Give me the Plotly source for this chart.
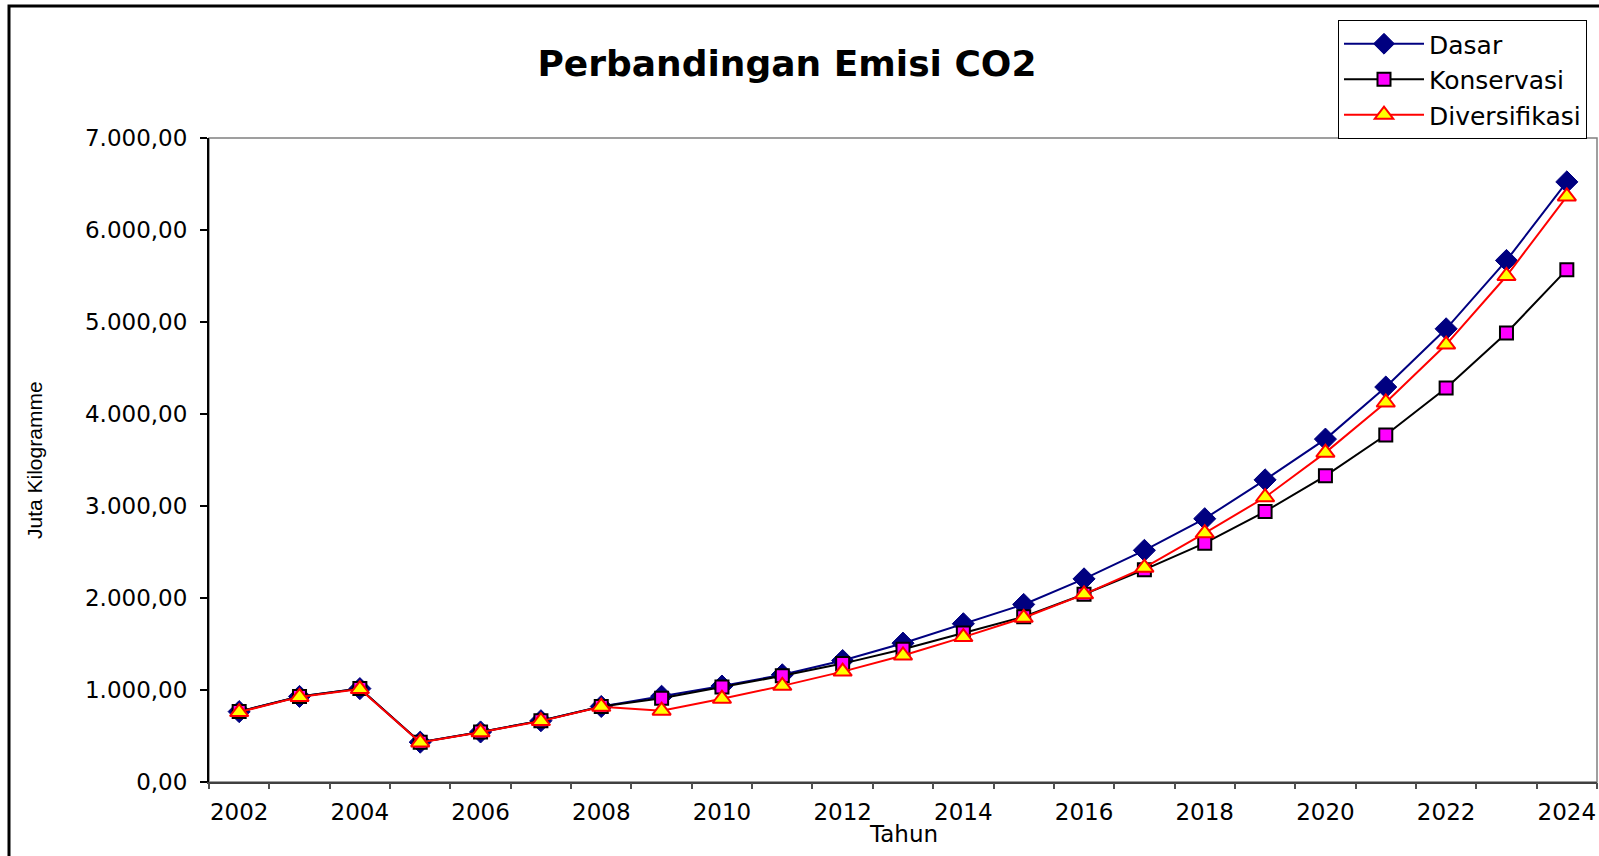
import plotly.graph_objects as go

years = list(range(2002, 2025))
dasar = [765, 930, 1015, 433, 544, 666, 821, 932, 1043, 1165, 1320, 1509, 1720, 1930,
         2208, 2518, 2862, 3284, 3727, 4293, 4926, 5669, 6523]
konservasi = [765, 930, 1015, 433, 544, 666, 821, 910, 1032, 1154, 1287, 1442, 1620, 1797,
              2041, 2308, 2596, 2940, 3328, 3772, 4282, 4881, 5569]
diversifikasi = [760, 925, 1010, 430, 540, 662, 818, 775, 905, 1045, 1200, 1375, 1575, 1785,
                 2040, 2330, 2705, 3095, 3580, 4125, 4755, 5500, 6365]
label_years = [2002, 2004, 2006, 2008, 2010, 2012, 2014, 2016, 2018, 2020, 2022, 2024]

# tick marks sit on the category boundaries, labels on the category centres
boundaries = [y - 0.5 for y in years] + [years[-1] + 0.5]

fig = go.Figure()
fig.add_trace(go.Scatter(
    x=years, y=dasar, name="Dasar", mode="lines+markers",
    line=dict(color="#000080", width=2),
    marker=dict(symbol="diamond", size=17, color="#000080", line=dict(color="#000080", width=1)),
))
fig.add_trace(go.Scatter(
    x=years, y=konservasi, name="Konservasi", mode="lines+markers",
    line=dict(color="black", width=2),
    marker=dict(symbol="square", size=13, color="#FF00FF", line=dict(color="black", width=2)),
))
fig.add_trace(go.Scatter(
    x=years, y=diversifikasi, name="Diversifikasi", mode="lines+markers",
    line=dict(color="#FF0000", width=2),
    marker=dict(symbol="triangle-up", size=16, color="#FFFF00", line=dict(color="#FF0000", width=2)),
))
# invisible helper trace so that the tick-mark axis (x2) is drawn
fig.add_trace(go.Scatter(
    x=years, y=dasar, xaxis="x2", mode="lines", line=dict(width=0, color="rgba(0,0,0,0)"),
    showlegend=False, hoverinfo="skip",
))

W, H = 1599, 856
L, R, T, B = 209, 2, 138, 74
pw, ph = W - L - R, H - T - B

def px_x(p):
    return (p - L) / pw

def px_y(p):
    return (H - B - p) / ph

fig.update_layout(
    width=W, height=H,
    margin=dict(l=L, r=R, t=T, b=B, autoexpand=False),
    paper_bgcolor="white", plot_bgcolor="white",
    separators=",.",
    showlegend=True,
    title=dict(text="<b>Perbandingan Emisi CO2</b>", x=787 / W, xanchor="center",
               y=1 - 63 / H, yanchor="middle",
               font=dict(family="DejaVu Sans", size=36, color="black")),
    xaxis=dict(
        range=[years[0] - 0.5, years[-1] + 0.5],
        tickmode="array", tickvals=label_years, ticktext=[str(y) for y in label_years],
        ticks="outside", ticklen=8, tickcolor="rgba(0,0,0,0)",
        tickfont=dict(family="DejaVu Sans", size=23, color="black"),
        showline=True, linecolor="#404040", linewidth=2,
        showgrid=False, zeroline=False,
    ),
    xaxis2=dict(
        overlaying="x", anchor="y", side="bottom",
        range=[years[0] - 0.5, years[-1] + 0.5],
        tickmode="array", tickvals=boundaries, showticklabels=False,
        ticks="outside", ticklen=6, tickwidth=1.5, tickcolor="#505050",
        showline=False, showgrid=False, zeroline=False,
    ),
    yaxis=dict(
        range=[0, 7000], dtick=1000, tick0=0, tickformat=",.2f",
        ticks="outside", ticklen=7, tickwidth=1.5, tickcolor="black",
        tickfont=dict(family="DejaVu Sans", size=23, color="black"),
        ticklabelstandoff=8,
        showline=True, linecolor="black", linewidth=2,
        showgrid=False, zeroline=False,
    ),
    legend=dict(
        xref="container", yref="container",
        x=1338 / W, xanchor="left", y=1 - 20 / H, yanchor="top",
        font=dict(family="DejaVu Sans", size=25, color="black"),
        bordercolor="black", borderwidth=1, bgcolor="white",
        itemwidth=80, tracegroupgap=0,
    ),
    shapes=[
        dict(type="rect", xref="paper", yref="paper", x0=0, x1=1, y0=0, y1=1,
             line=dict(color="#808080", width=1.5), layer="below"),
        dict(type="rect", xref="paper", yref="paper", x0=px_x(9), x1=1.2,
             y0=-0.5, y1=px_y(6), line=dict(color="black", width=3)),
    ],
    annotations=[
        dict(text="Juta Kilogramme", xref="paper", yref="paper", x=px_x(34), y=0.5,
             textangle=-90, showarrow=False, xanchor="center", yanchor="middle",
             font=dict(family="Liberation Sans", size=21, color="black")),
        dict(text="Tahun", xref="paper", yref="paper", x=px_x(903), y=px_y(834),
             showarrow=False, xanchor="center", yanchor="middle",
             font=dict(family="DejaVu Sans", size=23, color="black")),
    ],
)

fig.write_html("out.html", config={"displayModeBar": False},
               post_script="document.body.style.margin='0';document.body.style.overflow='hidden';")
